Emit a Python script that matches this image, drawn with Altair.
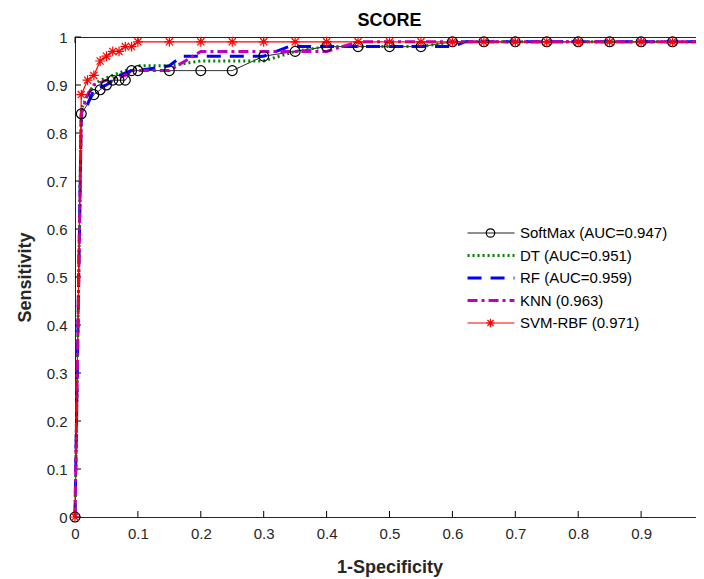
import altair as alt
import pandas as pd

series_names = ["SoftMax (AUC=0.947)", "DT (AUC=0.951)", "RF (AUC=0.959)",
                "KNN (0.963)", "SVM-RBF (0.971)"]

tail_x = [0.65, 0.70, 0.75, 0.80, 0.85, 0.90, 0.95, 1.00]
tail_y = [0.99] * 8

softmax_x = [0, 0.01, 0.03, 0.04, 0.05, 0.06, 0.07, 0.08, 0.09, 0.10, 0.15, 0.20,
             0.25, 0.30, 0.35, 0.40, 0.45, 0.50, 0.55, 0.60] + tail_x
softmax_y = [0, 0.84, 0.88, 0.89, 0.90, 0.91, 0.91, 0.91, 0.93, 0.93, 0.93, 0.93,
             0.93, 0.96, 0.97, 0.98, 0.98, 0.98, 0.98, 0.99] + tail_y

dt_x = [0, 0.01, 0.02, 0.03, 0.04, 0.06, 0.08, 0.09, 0.10, 0.15, 0.20, 0.30, 0.35,
        0.40, 0.45, 0.50, 0.55, 0.60] + tail_x
dt_y = [0, 0.85, 0.88, 0.90, 0.91, 0.92, 0.93, 0.93, 0.94, 0.94, 0.95, 0.95, 0.97,
        0.98, 0.98, 0.98, 0.98, 0.99] + tail_y

rf_x = [0, 0.01, 0.02, 0.03, 0.05, 0.07, 0.09, 0.10, 0.15, 0.17, 0.20, 0.30, 0.34,
        0.40, 0.50, 0.60, 0.62] + tail_x[1:]
rf_y = [0, 0.84, 0.86, 0.89, 0.90, 0.92, 0.93, 0.93, 0.94, 0.96, 0.96, 0.96, 0.98,
        0.98, 0.98, 0.98, 0.99] + tail_y[1:]

knn_x = [0, 0.01, 0.02, 0.03, 0.05, 0.08, 0.09, 0.10, 0.15, 0.20, 0.30, 0.40, 0.45,
         0.50, 0.55, 0.60] + tail_x
knn_y = [0, 0.84, 0.88, 0.90, 0.91, 0.92, 0.93, 0.93, 0.93, 0.97, 0.97, 0.97, 0.99,
         0.99, 0.99, 0.99] + tail_y

svm_x = [0, 0.01, 0.02, 0.03, 0.04, 0.05, 0.06, 0.07, 0.08, 0.09, 0.10, 0.15, 0.20,
         0.25, 0.30, 0.35, 0.40, 0.45, 0.50, 0.55, 0.60] + tail_x
svm_y = [0, 0.88, 0.91, 0.92, 0.95, 0.96, 0.97, 0.97, 0.98, 0.98, 0.99, 0.99, 0.99,
         0.99, 0.99, 0.99, 0.99, 0.99, 0.99, 0.99, 0.99] + tail_y

tick_values = [0, 0.1, 0.2, 0.3, 0.4, 0.5, 0.6, 0.7, 0.8, 0.9, 1.0]

colors = ["#000000", "#008000", "#0000FF", "#BF00BF", "#FF0000"]
dashes = [[1, 0], [2, 3], [14, 9], [10, 4, 3, 4], [1, 0]]
widths = [1, 3, 3, 3, 1.2]

circle_path = "M0.18,0A0.18,0.18 0 1,1 -0.18,0A0.18,0.18 0 1,1 0.18,0Z"
star_path = ("M-0.18,0L0.18,0M0,-0.18L0,0.18M-0.13,-0.13L0.13,0.13"
             "M-0.13,0.13L0.13,-0.13")
empty_path = "M0,0"
shapes = [circle_path, empty_path, empty_path, empty_path, star_path]

all_x = [softmax_x, dt_x, rf_x, knn_x, svm_x]
all_y = [softmax_y, dt_y, rf_y, knn_y, svm_y]

rows = []
for name, xs, ys in zip(series_names, all_x, all_y):
    for i, (a, b) in enumerate(zip(xs, ys)):
        rows.append({"series": name, "model": name, "x": a, "y": b, "idx": i})
df = pd.DataFrame(rows)
df_pts = df[df["series"].isin([series_names[0], series_names[4]])]
ticks_df = pd.DataFrame({"t": tick_values})

FONT = "Liberation Sans"
xscale = alt.Scale(domain=[0, 1], nice=False, zero=False)
yscale = alt.Scale(domain=[0, 1], nice=False, zero=False)
xaxis = alt.Axis(values=tick_values, format=".1~f", labelPadding=9, titlePadding=17,
                 labelFlush=False)
yaxis = alt.Axis(values=tick_values, format=".1~f", labelPadding=8, titlePadding=12,
                 labelFlush=False)

common_leg = dict(orient="none", legendX=391, legendY=188, title=None,
                  clipHeight=16, rowPadding=6.5, labelFontSize=15, labelFont=FONT,
                  padding=0, symbolOffset=0, labelOffset=4)

leg_lines = alt.Legend(symbolType="stroke", symbolSize=2200,
                       labelColor="#000000", **common_leg)
leg_pts = alt.Legend(symbolSize=2200, labelOpacity=0,
                     symbolStrokeWidth=1.2, **common_leg)

xt = alt.Chart(ticks_df)
xticks_bottom = xt.mark_rule(color="black", strokeWidth=1).encode(
    x=alt.X("t:Q", scale=xscale, axis=xaxis, title="1-Specificity"),
    y=alt.value(480), y2=alt.value(474))
xticks_top = xt.mark_rule(color="black", strokeWidth=1).encode(
    x=alt.X("t:Q", scale=xscale, axis=xaxis, title="1-Specificity"),
    y=alt.value(0), y2=alt.value(6))
yticks_left = xt.mark_rule(color="black", strokeWidth=1).encode(
    y=alt.Y("t:Q", scale=yscale, axis=yaxis, title="Sensitivity"),
    x=alt.value(0), x2=alt.value(6))
yticks_right = xt.mark_rule(color="black", strokeWidth=1).encode(
    y=alt.Y("t:Q", scale=yscale, axis=yaxis, title="Sensitivity"),
    x=alt.value(629), x2=alt.value(623))

lines = alt.Chart(df).mark_line().encode(
    x=alt.X("x:Q", scale=xscale, axis=xaxis, title="1-Specificity"),
    y=alt.Y("y:Q", scale=yscale, axis=yaxis, title="Sensitivity"),
    color=alt.Color("series:N", scale=alt.Scale(domain=series_names, range=colors),
                    legend=leg_lines),
    strokeDash=alt.StrokeDash("series:N",
                              scale=alt.Scale(type="ordinal", domain=series_names,
                                              range=dashes),
                              legend=leg_lines),
    strokeWidth=alt.StrokeWidth("series:N",
                                scale=alt.Scale(type="ordinal", domain=series_names,
                                                range=widths),
                                legend=leg_lines),
    order=alt.Order("idx:Q"),
)

points = alt.Chart(df_pts).mark_point(filled=False, size=3000, opacity=1,
                                      strokeWidth=1.2).encode(
    x=alt.X("x:Q", scale=xscale, axis=xaxis, title="1-Specificity"),
    y=alt.Y("y:Q", scale=yscale, axis=yaxis, title="Sensitivity"),
    shape=alt.Shape("model:N", scale=alt.Scale(domain=series_names, range=shapes),
                    legend=leg_pts),
    color=alt.Color("model:N", scale=alt.Scale(domain=series_names, range=colors),
                    legend=leg_pts),
)

chart = alt.layer(
    xticks_bottom, xticks_top, yticks_left, yticks_right, lines, points
).resolve_scale(
    color="independent", shape="independent", strokeDash="independent",
    strokeWidth="independent"
).resolve_legend(
    color="independent", shape="independent", strokeDash="independent",
    strokeWidth="independent"
).properties(
    width=629, height=480,
    autosize=alt.AutoSizeParams(type="none"),
    padding={"left": 67, "top": 29, "right": -8, "bottom": 62},
    title=alt.Title("SCORE", fontSize=18, fontWeight="bold", font=FONT,
                    color="#000000", offset=0, anchor="middle", frame="group"),
).configure_view(
    stroke="#262626", strokeWidth=1
).configure_axis(
    grid=False, ticks=False, domainColor="#262626", domainWidth=1,
    labelFont=FONT, labelFontSize=15, labelColor="#262626",
    titleFont=FONT, titleFontSize=18, titleFontWeight="bold", titleColor="#262626",
)

chart.save("out.html", embed_options={"renderer": "svg", "actions": False})
